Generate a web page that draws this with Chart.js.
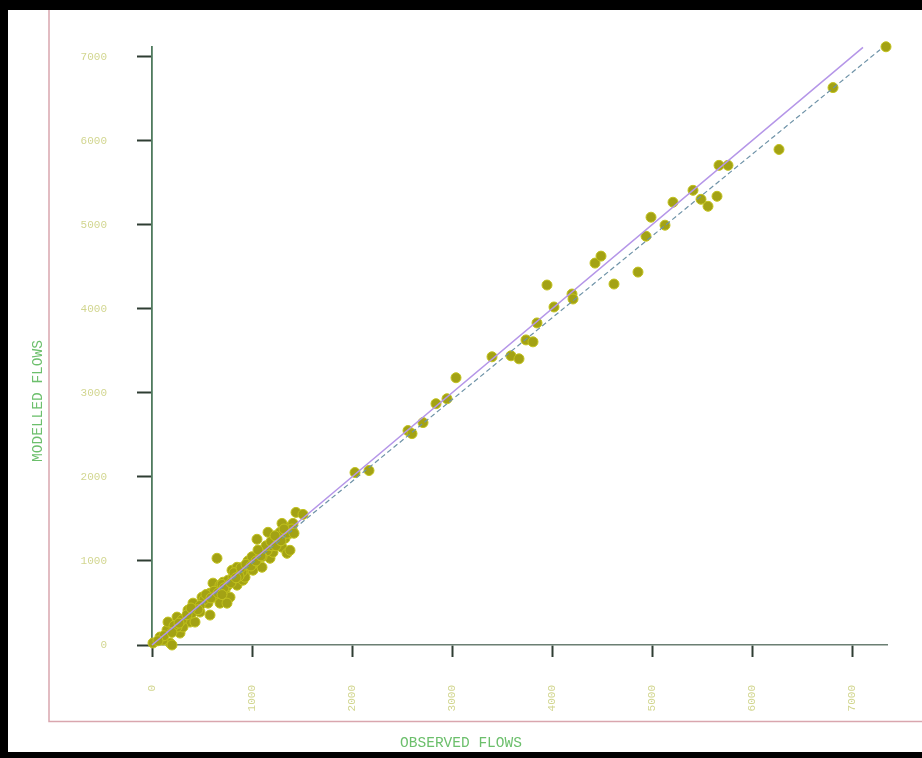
<!DOCTYPE html>
<html><head><meta charset="utf-8">
<script src="https://cdn.jsdelivr.net/npm/chart.js@4"></script>
<style>
html,body{margin:0;padding:0;background:#000;width:922px;height:758px;overflow:hidden;}
#c{position:absolute;left:8px;top:10px;background:#fff;}
</style></head><body>
<canvas id="c" width="914" height="742"></canvas>
<script>
// Observed vs modelled flows
const observedFlows = [
  10,80,150,180,200,160,280,250,330,380,360,450,480,410,530,500,580,560,630,650,
  610,680,710,730,780,760,810,850,880,910,950,800,850,980,930,1010,1050,1100,1130,1180,
  1210,1160,1250,1300,1330,1280,1350,1380,1410,1350,1380,650,1050,1160,1300,1440,1510,680,750,580,
  430,310,250,110,
  300,400,520,600,700,750,820,900,960,1020,1080,1150,1200,1250,1300,1350,1400,1100,1000,870,
  620,480,350,220,120,60,
  540,590,660,720,790,840,890,940,990,1040,1090,1140,1190,1240,1290,1320,1420,1230,1060,460,
  390,270,200,700,
  2030,2170,2560,2600,2710,2840,2950,3040,3400,3590,3670,3740,3810,3850,3950,4020,4200,4210,4430,4490,
  4620,4860,4940,4990,5130,5210,5410,5490,5560,5650,5670,5760,6270,6810,7340
];
const modelledFlows = [
  24,95,178,24,0,273,142,332,320,273,415,451,392,498,510,569,617,498,569,676,
  736,712,747,653,569,771,807,712,854,771,890,890,925,973,807,890,1032,925,1068,1032,
  1103,1163,1210,1163,1269,1341,1400,1329,1447,1091,1127,1032,1258,1341,1447,1578,1554,498,498,356,
  273,214,214,59,
  300,380,540,600,720,700,860,870,1000,980,1100,1120,1180,1260,1300,1330,1380,1050,1050,820,
  640,470,360,230,110,50,
  600,560,620,680,740,800,920,960,940,1000,1060,1180,1230,1180,1240,1380,1330,1300,1130,420,
  440,260,150,600,
  2052,2076,2551,2515,2646,2871,2930,3180,3429,3441,3405,3630,3607,3832,4283,4022,4176,4117,4544,4627,
  4295,4437,4864,5090,4995,5268,5410,5303,5220,5339,5707,5707,5896,6632,7118
];
const equalityLineX = [0, 7110];
const equalityLineY = [0, 7110];
const fitLineX = [0, 7280];
const fitLineY = [0, 7083];
const xTickValues = [0,1000,2000,3000,4000,5000,6000,7000];
const xTickLabels = ['0','1000','2000','3000','4000','5000','6000','7000'];
const yTickValues = [0,1000,2000,3000,4000,5000,6000,7000];
const yTickLabels = ['0','1000','2000','3000','4000','5000','6000','7000'];
const xAxisTitle = 'OBSERVED FLOWS';
const yAxisTitle = 'MODELLED FLOWS';

const framePlugin = {
  id: 'frame',
  afterDraw(chart) {
    const ctx = chart.ctx;
    ctx.save();
    ctx.strokeStyle = '#d9a6ae';
    ctx.lineWidth = 1.5;
    ctx.beginPath();
    ctx.moveTo(41, 0); ctx.lineTo(41, 711.5); ctx.lineTo(914, 711.5);
    ctx.stroke();
    ctx.fillStyle = '#6cbf6c';
    ctx.font = '14.5px "Liberation Mono"';
    ctx.textAlign = 'center';
    ctx.textBaseline = 'middle';
    ctx.fillText(xAxisTitle, 453, 733);
    ctx.translate(30, 391);
    ctx.rotate(-Math.PI / 2);
    ctx.fillText(yAxisTitle, 0, 0);
    ctx.restore();
  }
};

const tickFont = { family: 'Liberation Mono', size: 11 };
new Chart(document.getElementById('c'), {
  type: 'scatter',
  data: {
    datasets: [
      { label: 'equality', data: equalityLineX.map((x, i) => ({ x, y: equalityLineY[i] })),
        showLine: true, borderColor: '#b596e8', borderWidth: 1.5, pointRadius: 0, order: 0, clip: false },
      { label: 'fit', data: fitLineX.map((x, i) => ({ x, y: fitLineY[i] })),
        showLine: true, borderColor: '#6f93a8', borderWidth: 1.2, borderDash: [5, 3], pointRadius: 0, order: 1, clip: false },
      { label: 'flows', data: observedFlows.map((x, i) => ({ x, y: modelledFlows[i] })),
        pointRadius: 5, pointHoverRadius: 5, backgroundColor: '#a3a214', borderColor: '#c2c21e', borderWidth: 1, order: 2, clip: false }
    ]
  },
  options: {
    responsive: false,
    animation: false,
    devicePixelRatio: 1,
    layout: { padding: { top: 35, right: 35, left: 0, bottom: 0 } },
    plugins: { legend: { display: false }, tooltip: { enabled: false } },
    scales: {
      x: {
        type: 'linear', min: 0, max: 7350,
        afterBuildTicks: s => { s.ticks = xTickValues.map(v => ({ value: v })); },
        afterFit: s => { s.height = 107; },
        grid: { drawOnChartArea: false, drawTicks: true, tickLength: 12, tickColor: '#2e3d33', tickWidth: 2 },
        border: { display: true, color: '#6b7f73', width: 1.5 },
        ticks: { autoSkip: false, minRotation: 90, maxRotation: 90, padding: 28, color: '#d2d690', font: tickFont,
                 callback: (v, i) => xTickLabels[i] }
      },
      y: {
        type: 'linear', min: 0, max: 7120,
        afterBuildTicks: s => { s.ticks = yTickValues.map(v => ({ value: v })); },
        afterFit: s => { s.width = 144; },
        grid: { drawOnChartArea: false, drawTicks: true, tickLength: 15, tickColor: '#2e3d33', tickWidth: 2 },
        border: { display: true, color: '#4f7a5e', width: 1.8 },
        ticks: { autoSkip: false, padding: 30, color: '#d2d690', font: tickFont,
                 callback: (v, i) => yTickLabels[i] }
      }
    }
  },
  plugins: [framePlugin]
});
</script>
</body></html>
